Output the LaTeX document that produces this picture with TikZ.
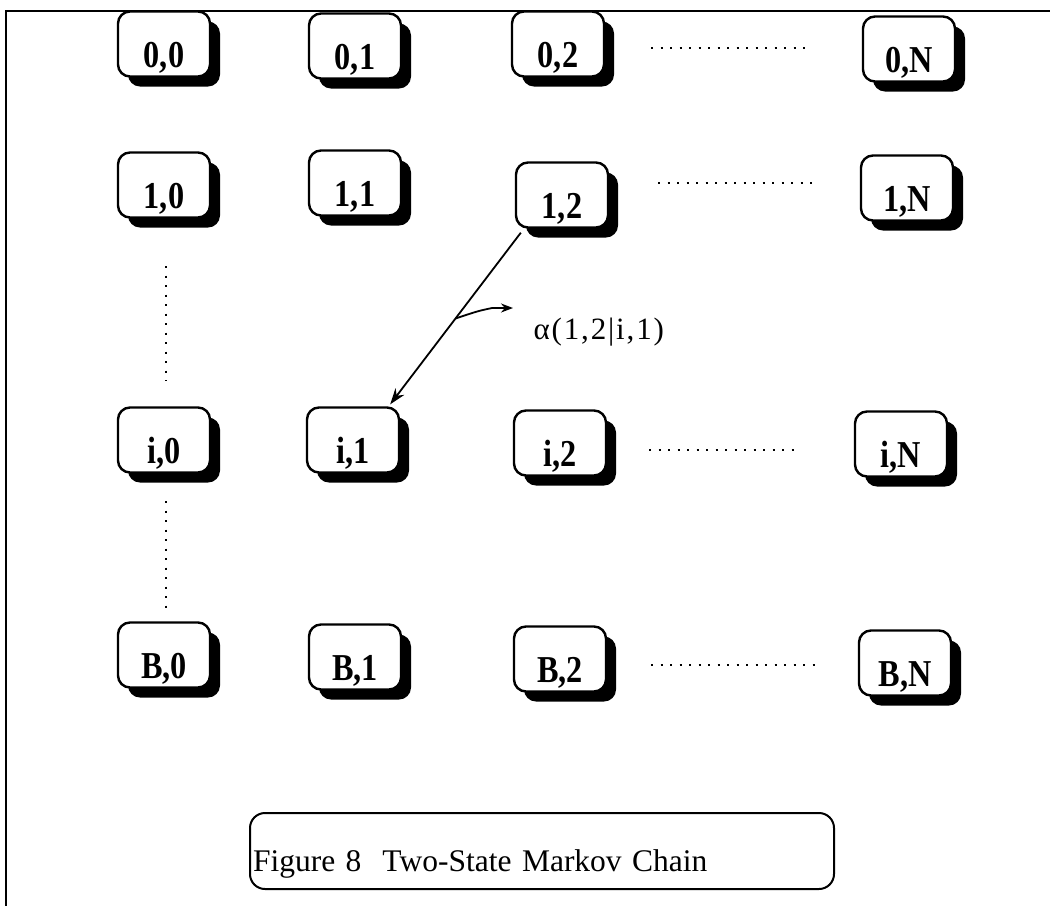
\documentclass[tikz,border=0pt]{standalone}
\usepackage{fontspec}
\setmainfont{Liberation Serif}
\newfontfamily\boxfont[FakeStretch=0.85]{Liberation Serif}
\newfontfamily\alabfont[LetterSpace=6]{Liberation Serif}
\usetikzlibrary{shadows,arrows.meta,calc}
\newcommand\lab[1]{\raisebox{-23pt}[0pt][0pt]{#1}}
\begin{document}
\begin{tikzpicture}[x=1pt,y=-1pt,
  state/.style={draw, line width=2.4pt, rounded corners=12pt, fill=white,
    minimum width=92pt, minimum height=65pt, inner sep=0pt,
    font=\boxfont\bfseries\fontsize{38}{38}\selectfont,
    drop shadow={shadow xshift=10pt, shadow yshift=-10pt, fill=black, opacity=1}},
  dotline/.style={line width=2.2pt, dash pattern=on 2pt off 7.5pt},
  arr/.style={line width=1.8pt},
  capbox/.style={draw, line width=2pt, rounded corners=15pt, inner xsep=3pt, inner ysep=0pt,
    minimum height=76pt, text width=578pt, align=left,
    font=\fontsize{31.5}{31.5}\selectfont},
]
\useasboundingbox (0,0) rectangle (1050,906);
\draw[line width=2.5pt] (1050,11) -- (6,11) -- (6,906);

\node[state] (n00) at (164,44) {\lab{0,0}};
\node[state] (n01) at (355,46) {\lab{0,1}};
\node[state] (n02) at (558,44) {\lab{0,2}};
\node[state] (n0N) at (909,49) {\lab{0,N}};
\node[state] (n10) at (164,185) {\lab{1,0}};
\node[state] (n11) at (355,183) {\lab{1,1}};
\node[state] (n12) at (562,195) {\lab{1,2}};
\node[state] (n1N) at (907,188) {\lab{1,N}};
\node[state] (ni0) at (164,440) {\lab{i,0}};
\node[state] (ni1) at (353,440) {\lab{i,1}};
\node[state] (ni2) at (560,443) {\lab{i,2}};
\node[state] (niN) at (901,444) {\lab{i,N}};
\node[state] (nB0) at (164,655) {\lab{B,0}};
\node[state] (nB1) at (355,657) {\lab{B,1}};
\node[state] (nB2) at (560,659) {\lab{B,2}};
\node[state] (nBN) at (905,663) {\lab{B,N}};

% dotted continuations
\draw[dotline] ($(n02.east)+(46,4)$) -- ($(n0N.west)+(-50,-1)$);
\draw[dotline] ($(n12.east)+(49,-12)$) -- ($(n1N.west)+(-41,-5)$);
\draw[dotline] ($(ni2.east)+(42,7)$) -- ($(niN.west)+(-55,6)$);
\draw[dotline] ($(nB2.east)+(44,6)$) -- ($(nBN.west)+(-37,2)$);
\draw[dotline] ($(n10.south)+(2,47.5)$) -- ($(ni0.north)+(2,-25.5)$);
\draw[dotline] ($(ni0.south)+(2,27.5)$) -- ($(nB0.north)+(2,-7.5)$);

% transition arrow
\coordinate (tA) at ([xshift=6pt,yshift=-4pt]n12.south west);
\coordinate (tB) at ([xshift=-10pt,yshift=2pt]ni1.north east);
\draw[arr, -{Stealth[length=16pt,width=11pt]}] (tA) -- (tB);
\coordinate (tM) at ($(tA)!0.5!(tB)$);
\coordinate (cE) at (513,308);
\draw[arr, -{Stealth[length=12pt,width=9pt]}] (tM) .. controls (478,311) .. (492,308) -- (cE);
\node[anchor=west, font=\alabfont\fontsize{31}{31}\selectfont] (alab) at (530,332) {α(1,2|i,1)};

% caption
\node[capbox, anchor=north west] (cap) at (249,812) {\raisebox{-20pt}[0pt][0pt]{Figure 8\ \ Two-State Markov Chain}};
\end{tikzpicture}
\end{document}
